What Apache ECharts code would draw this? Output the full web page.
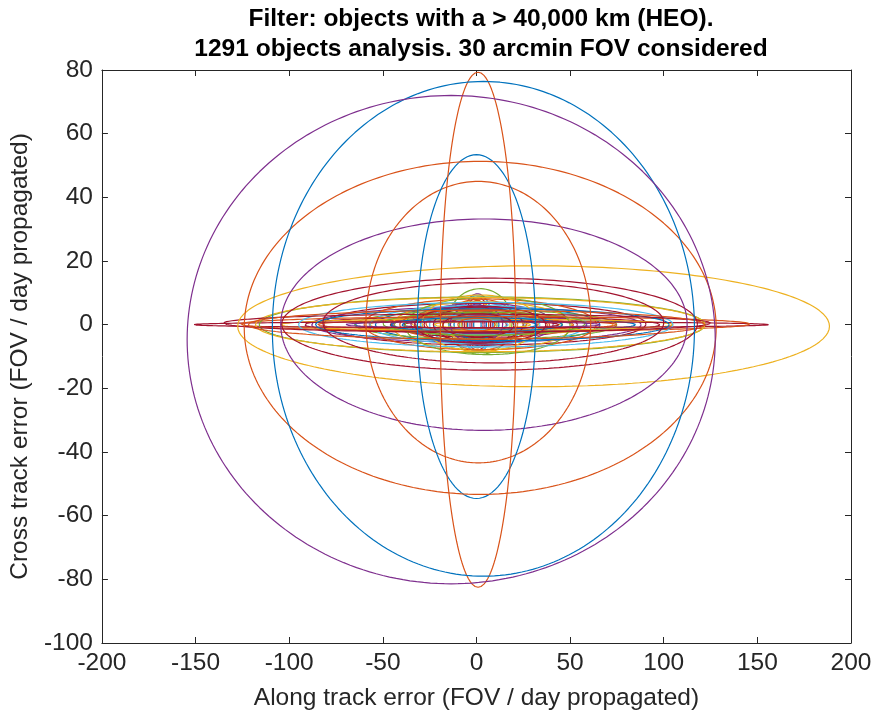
<!DOCTYPE html>
<html>
<head>
<meta charset="utf-8">
<script src="https://cdn.jsdelivr.net/npm/echarts@6/dist/echarts.min.js"></script>
<style>
html,body{margin:0;padding:0;background:#fff;}
#chart{width:877px;height:726px;}
</style>
</head>
<body>
<div id="chart"></div>
<script>
// MATLAB default colour order
const palette = ['#0072BD','#D95319','#EDB120','#7E2F8E','#77AC30','#4DBEEE','#A2142F'];

// Error ellipses: centre (cx, cy), half-widths (a along, b cross), colour index
const ellCx = [
  // small, nearly round ones at the centre
  0.5, 0.5, 0.5, 0.3, 0.5, 1, 0.5, 0.5, 0.5, 1, 2,
  // dense core
  0, 2, 3, -2, 5, 1, 0, 4, -3, 6, 2, 0, 3, 1, -1, 0, 8, 4.5, 0, 10,
  5, -5, 3, 2, 1, 0, 7, -4, 2, 3, 0, 6, 2, 1,
  1, 0, 2, -1, 3, 0, 1, 4, -2, 2, 0,
  // wide thin ones
  2.5, 10, 3, 8.5, 2, 5, -5, 0,
  // large ones
  9, 7, 30.5, 4, 1, 0, 2, 0.85, 3.7, -13.5
];
const ellCy = [
  0.5, 0.3, 0.2, 0.1, 0.4, 1, 0, 0, 0, 0, 1,
  0.5, 0, 0, 0, 0.5, 0, 0, 0, 0, 0, 0, 0, 0.2, 0, 0, 0, 0, 0.2, 0, 0,
  0, 0, -0.3, 0, 0, 0.3, 0, 0, 0.1, 0, 0, -0.4, 0.5, 0,
  0, 0.2, 0, 0, 0, 0, -0.2, 0.3, 0, 0, 0,
  0, 0.2, 0, 0, 0, 0, 0.5, 0,
  0.65, 0.15, -0.5, 0, 0.8, -0.6, -1, -1.6, -1.3, -4.7
];
const ellA = [
  8, 7, 6, 5, 8.5, 9, 4, 3, 2, 10, 17,
  33, 30, 35, 28, 40, 45, 25, 50, 55, 60, 20, 18, 38, 15, 22, 12, 65, 86, 88, 75,
  70, 80, 48, 42, 58, 27, 52, 36, 62, 95, 105, 44, 31, 16,
  24, 14, 32, 40, 26, 46, 19, 54, 68, 35, 10,
  153.5, 136, 119, 94.5, 120, 100, 130, 122,
  91, 111, 158, 108.5, 60, 31.5, 126, 20.1, 112.7, 141
];
const ellB = [
  9.2, 8.3, 7.5, 6.6, 8.8, 6, 5, 3.5, 2.5, 4, 10.3,
  4.3, 5, 3, 6, 2.5, 3.5, 7, 4, 2, 5.5, 8, 5, 6.5, 3, 2.5, 4.5, 3, 6.6, 5.5, 2,
  4.5, 1.5, 7.5, 1.2, 6, 3.8, 2.8, 1.8, 8, 2.5, 1.8, 9, 8.8, 1.5,
  5.5, 6, 3.2, 4.8, 1.0, 2.2, 3.6, 3.6, 1.0, 5.8, 2,
  0.9, 2.3, 8.7, 5, 8.5, 7, 2.8, 4.5,
  12.65, 14.45, 19, 33.2, 44.2, 54, 52.3, 80.9, 77.7, 76.7
];
const ellColor = [
  3, 6, 1, 0, 5, 2, 3, 6, 0, 4, 4,
  3, 6, 1, 0, 2, 4, 5, 6, 1, 0, 1, 2, 3, 6, 5, 0, 2, 6, 3, 0,
  4, 1, 2, 6, 5, 1, 3, 0, 1, 6, 2, 4, 2, 5,
  6, 3, 5, 1, 2, 0, 6, 4, 3, 6, 1,
  6, 1, 4, 0, 2, 5, 6, 1,
  6, 6, 2, 3, 1, 0, 1, 1, 0, 3
];

const xTicks = [-200, 200, 50];   // min, max, step
const yTicks = [-100, 80, 20];

const titleLines = ['Filter: objects with a > 40,000 km (HEO).', '1291 objects analysis. 30 arcmin FOV considered'];
const xName = 'Along track error (FOV / day propagated)';
const yName = 'Cross track error (FOV / day propagated)';

const NPTS = 240;
function outline(i){
  const pts = [];
  for (let k = 0; k <= NPTS; k++){
    const t = 2*Math.PI*k/NPTS;
    pts.push([ellCx[i] + ellA[i]*Math.cos(t), ellCy[i] + ellB[i]*Math.sin(t)]);
  }
  return pts;
}

const series = ellCx.map((_, i) => ({
  type: 'line',
  data: outline(i),
  showSymbol: false,
  symbol: 'none',
  smooth: false,
  clip: true,
  lineStyle: {color: palette[ellColor[i]], width: 1.2},
  silent: true,
  animation: false
}));

const axisCol = '#262626';
const font = 'Liberation Sans, Arial, Helvetica, sans-serif';
const fs = 24.5;
function mkX(pos, show){
  return {
    type: 'value', position: pos, min: xTicks[0], max: xTicks[1], interval: xTicks[2],
    name: show ? xName : '', nameLocation: 'middle', nameGap: 43,
    nameTextStyle: {color: axisCol, fontSize: fs, fontFamily: font},
    axisLine: {show: true, onZero: false, lineStyle: {color: axisCol, width: 1}},
    axisTick: {show: true, inside: true, length: 6, lineStyle: {color: axisCol}},
    axisLabel: {show: show, color: axisCol, fontSize: fs, fontFamily: font, margin: 8},
    splitLine: {show: false}
  };
}
function mkY(pos, show){
  return {
    type: 'value', position: pos, min: yTicks[0], max: yTicks[1], interval: yTicks[2],
    name: show ? yName : '', nameLocation: 'middle', nameGap: 64, nameRotate: 90,
    nameTextStyle: {color: axisCol, fontSize: fs, fontFamily: font},
    axisLine: {show: true, onZero: false, lineStyle: {color: axisCol, width: 1}},
    axisTick: {show: true, inside: true, length: 6, lineStyle: {color: axisCol}},
    axisLabel: {show: show, color: axisCol, fontSize: fs, fontFamily: font, margin: 9},
    splitLine: {show: false}
  };
}

const chart = echarts.init(document.getElementById('chart'), null, {renderer: 'canvas'});
chart.setOption({
  backgroundColor: '#ffffff',
  animation: false,
  title: {
    text: titleLines.join('\n'),
    left: 476, top: -1, textAlign: 'center',
    textStyle: {fontSize: 24.5, fontWeight: 'bold', color: '#000', fontFamily: font, lineHeight: 30}
  },
  grid: {left: 101, right: 26, top: 70, bottom: 83, containLabel: false},
  xAxis: [mkX('bottom', true), mkX('top', false)],
  yAxis: [mkY('left', true), mkY('right', false)],
  series: series
});
</script>
</body>
</html>
